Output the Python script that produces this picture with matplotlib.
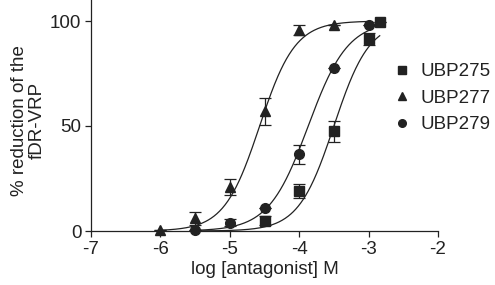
import numpy as np
import matplotlib
matplotlib.use("Agg")
import matplotlib.pyplot as plt
from matplotlib.lines import Line2D

plt.rcParams['font.family'] = ['Liberation Sans', 'DejaVu Sans']
plt.rcParams['axes.unicode_minus'] = False

# Data (log molar concentration, % reduction, error)
names = ["UBP275", "UBP277", "UBP279"]
markers = ["s", "^", "o"]

x275 = [-4.5, -4.0, -3.5, -3.0, -2.84]
y275 = [5.0, 19.0, 47.5, 91.5, 99.5]
e275 = [2.0, 3.5, 5.0, 2.7, 0.0]

x277 = [-6.0, -5.5, -5.0, -4.5, -4.0, -3.5]
y277 = [0.5, 6.0, 21.0, 57.0, 95.6, 98.0]
e277 = [0.0, 3.0, 4.0, 6.5, 2.5, 0.0]

x279 = [-5.5, -5.0, -4.5, -4.0, -3.5, -3.0]
y279 = [0.5, 4.0, 11.0, 36.5, 77.5, 98.0]
e279 = [0.0, 1.5, 0.0, 4.5, 0.0, 0.0]

# Fitted Hill curves: logIC50, slope, curve range
fit_logic50 = [-3.50, -4.57, -3.87]
fit_slope = [1.7, 1.7, 1.52]
fit_range = [(-5.5, -2.84), (-6.0, -3.0), (-5.5, -3.0)]

xticks = [-7, -6, -5, -4, -3, -2]
yticks = [0, 50, 100]

W, H = 495, 285
fig = plt.figure(figsize=(W / 100, H / 100), dpi=100)
ax = fig.add_axes([91 / W, 1 - 231 / H, (438 - 91) / W, 231 / H])

col = '#222222'
series = [(x275, y275, e275), (x277, y277, e277), (x279, y279, e279)]
for i, (xs, ys, es) in enumerate(series):
    lo, hi = fit_range[i]
    xc = np.linspace(lo, hi, 300)
    yc = 100 / (1 + 10 ** ((fit_logic50[i] - xc) * fit_slope[i]))
    ax.plot(xc, yc, color=col, lw=0.9, clip_on=False, zorder=2)
    ax.errorbar(xs, ys, yerr=es, fmt=markers[i], color=col, ms=7 if markers[i] != '^' else 7.5,
                elinewidth=0.9, capsize=4, capthick=0.9, clip_on=False, zorder=3,
                label=names[i])

ax.set_xlim(-7, -2)
ax.set_ylim(0, 110)
ax.set_xticks(xticks)
ax.set_xticklabels([str(t) for t in xticks])
ax.set_yticks(yticks)
for s in ['top', 'right']:
    ax.spines[s].set_visible(False)
for s in ['left', 'bottom']:
    ax.spines[s].set_linewidth(0.9)
    ax.spines[s].set_color(col)
ax.tick_params(direction='out', length=4, width=0.9, labelsize=13.5, colors=col, pad=3)
ax.set_xlabel("log [antagonist] M", fontsize=13.5, color=col, labelpad=2)
ax.set_ylabel("% reduction of the\nfDR-VRP", fontsize=13.5, color=col, linespacing=1.1)
ax.yaxis.set_label_coords(-0.13, 0.48)

hs = [Line2D([], [], marker=m, ls='none', color=col, ms=5.5) for m in markers]
fig.legend(hs, names, loc='upper left', bbox_to_anchor=(394 / W, 1 - 63 / H),
           frameon=False, fontsize=13.5, handlelength=0.8, handletextpad=0.6,
           labelspacing=0.5, borderpad=0, borderaxespad=0, labelcolor=col)

fig.savefig("out.png", dpi=100)
